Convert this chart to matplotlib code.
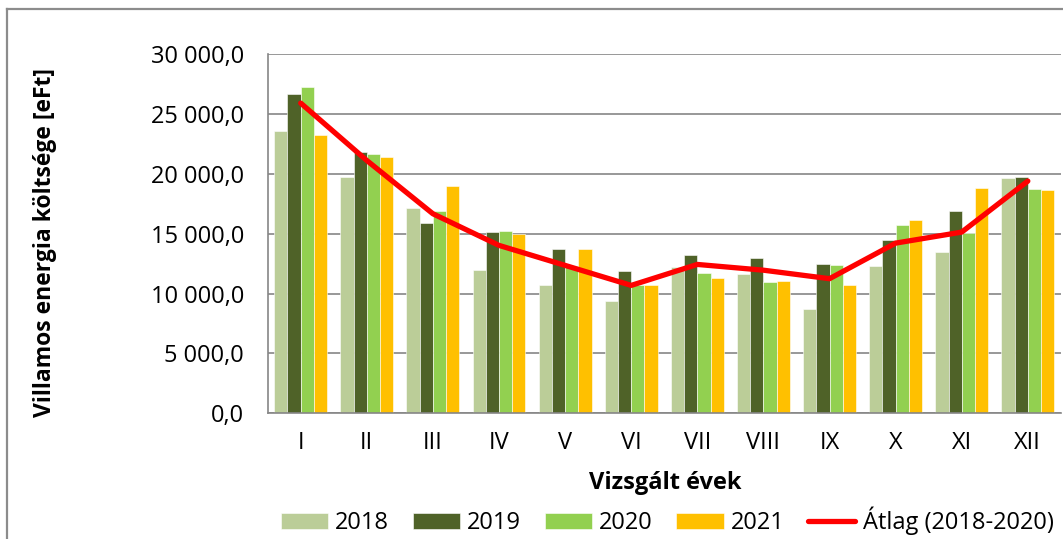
import numpy as np
import matplotlib.pyplot as plt
from matplotlib.lines import Line2D

plt.rcParams['font.family'] = ['Open Sans', 'DejaVu Sans']

months = ["I", "II", "III", "IV", "V", "VI", "VII", "VIII", "IX", "X", "XI", "XII"]

y2018 = [23530, 19690, 17110, 11930, 10740, 9370, 12240, 11630, 8680, 12300, 13490, 19640]
y2019 = [26680, 21840, 15880, 15100, 13750, 11850, 13190, 12990, 12490, 14470, 16910, 19690]
y2020 = [27230, 21610, 16860, 15190, 12300, 10740, 11740, 10990, 12380, 15720, 15080, 18750]
y2021 = [23260, 21360, 19000, 14990, 13680, 10740, 11270, 11040, 10680, 16110, 18810, 18640]
atlag = [25900, 21110, 16660, 14020, 12350, 10680, 12430, 11950, 11240, 14210, 15130, 19390]

series = [("2018", y2018, "#BBCD98"),
          ("2019", y2019, "#4F6228"),
          ("2020", y2020, "#92D050"),
          ("2021", y2021, "#FFC000")]

fig = plt.figure(figsize=(10.63, 5.39), dpi=100)
ax = fig.add_axes([0.2518, 0.2332, 0.7462, 0.6666])

x = np.arange(len(months))
w = 0.2
handles = []
for i, (name, vals, col) in enumerate(series):
    b = ax.bar(x + (i - 1.5) * w, vals, width=w, color=col, edgecolor="white",
               linewidth=0.4, label=name, zorder=2)
    handles.append(b)

ln, = ax.plot(x, atlag, color="#FF0000", linewidth=3.8, solid_capstyle="round",
              solid_joinstyle="round", label="Átlag (2018-2020)", zorder=3)
handles.append(ln)

ax.set_xlim(-0.5, 11.5)
ax.set_ylim(0, 30000)
ax.set_yticks(np.arange(0, 30001, 5000))
ax.set_yticklabels([f"{v:,.1f}".replace(",", " ").replace(".", ",") for v in range(0, 30001, 5000)])
ax.set_xticks(x)
ax.set_xticklabels(months)
ax.tick_params(axis="both", length=0, labelsize=17, colors="#000000")
ax.tick_params(axis="y", pad=17)
ax.tick_params(axis="x", pad=13)

ax.grid(axis="y", color="#868686", linewidth=1.2, zorder=0)
ax.set_axisbelow(True)
for s in ["top", "right"]:
    ax.spines[s].set_visible(False)
for s in ["left", "bottom"]:
    ax.spines[s].set_color("#868686")
    ax.spines[s].set_linewidth(1.2)

ax.set_xlabel("Vizsgált évek", fontsize=17, fontweight="bold")
ax.xaxis.set_label_coords(0.5008, -0.194)
ax.xaxis.label.set_va("center")
ax.set_ylabel("Villamos energia költsége [eFt]", fontsize=16.5, fontweight="bold")
ax.yaxis.set_label_coords(-0.281, 0.474)
ax.yaxis.label.set_va("center")

ax.legend(handles=handles, loc="center left", bbox_to_anchor=(0.2643, 0.0334),
          bbox_transform=fig.transFigure, ncol=5, frameon=False, fontsize=17,
          borderpad=0, borderaxespad=0, handlelength=2.0, handletextpad=0.3,
          columnspacing=1.0)

# chart area border (top and left edges visible)
fig.add_artist(Line2D([7 / 1063, 1.01], [1 - 9 / 539, 1 - 9 / 539], color="#8C8C8C", linewidth=1.6))
fig.add_artist(Line2D([7 / 1063, 7 / 1063], [-0.01, 1 - 9 / 539], color="#8C8C8C", linewidth=1.6))

fig.savefig("out.png", dpi=100)
